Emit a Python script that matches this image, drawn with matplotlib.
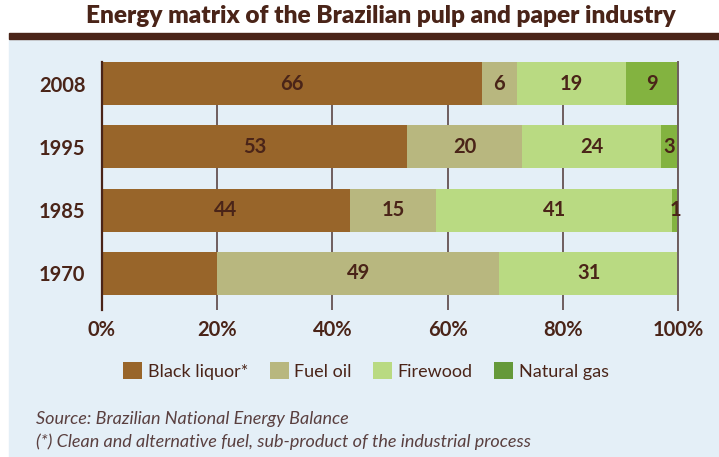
import matplotlib
matplotlib.use("Agg")
import matplotlib.pyplot as plt
from matplotlib.patches import Patch, Rectangle

# data (shares in %)
years = ["1970", "1985", "1995", "2008"]
black_liquor = [20, 43, 53, 66]
fuel_oil = [49, 15, 20, 6]
firewood = [31, 41, 24, 19]
natural_gas = [0, 1, 3, 9]

# printed segment labels ("" = not printed)
black_liquor_lbl = ["", "44", "53", "66"]
fuel_oil_lbl = ["49", "15", "20", "6"]
firewood_lbl = ["31", "41", "24", "19"]
natural_gas_lbl = ["", "1", "3", "9"]

series_names = ["Black liquor*", "Fuel oil", "Firewood", "Natural gas"]
series_colors = ["#98652A", "#B8B77F", "#B9DA82", "#83B340"]
legend_colors = ["#98652A", "#B8B77F", "#B9DA82", "#65993A"]
xticks = [0, 20, 40, 60, 80, 100]

DARK = "#4A2418"
PANEL = "#E4EFF7"
FONT = ["Lato", "DejaVu Sans"]

W, H = 719, 457
fig = plt.figure(figsize=(W / 100, H / 100), dpi=100)
fig.patch.set_facecolor("white")

# light panel and dark title rule
fig.add_artist(Rectangle((9 / W, 0), 1 - 9 / W, (H - 40) / H,
                         transform=fig.transFigure, color=PANEL, zorder=0))
fig.add_artist(Rectangle((9 / W, (H - 39) / H), 1 - 9 / W, 6 / H,
                         transform=fig.transFigure, color=DARK, zorder=0))
fig.text(381 / W, 1 - 16 / H, "Energy matrix of the Brazilian pulp and paper industry",
         ha="center", va="center", fontsize=17.6, fontweight="heavy",
         family=FONT, color=DARK)

ax = fig.add_axes([102 / W, (H - 310) / H, 576 / W, 248 / H])
ax.set_facecolor("none")

ypos = list(range(len(years)))
series = [black_liquor, fuel_oil, firewood, natural_gas]
labels = [black_liquor_lbl, fuel_oil_lbl, firewood_lbl, natural_gas_lbl]
left = [0] * len(years)
for vals, lbls, name, col in zip(series, labels, series_names, series_colors):
    bars = ax.barh(ypos, vals, left=left, height=0.68, color=col, label=name, zorder=2)
    ax.bar_label(bars, labels=lbls, label_type="center", fontsize=14.5,
                 fontweight="bold", family=FONT, color=DARK)
    left = [a + b for a, b in zip(left, vals)]

ax.set_xlim(0, 100)
ax.set_ylim(-0.578, 3.34)
ax.set_xticks(xticks)
ax.set_xticklabels([f"{t}%" for t in xticks], fontsize=14.5, fontweight="bold",
                   family=FONT, color=DARK)
ax.set_yticks(ypos)
ax.set_yticklabels(years, fontsize=14.5, fontweight="bold", family=FONT, color=DARK)
ax.tick_params(axis="both", length=0)
ax.tick_params(axis="y", pad=12)
ax.tick_params(axis="x", pad=7)

ax.grid(axis="x", color="#6E5E5E", linewidth=1.4, zorder=1)
ax.set_axisbelow(True)
for side in ["top", "bottom"]:
    ax.spines[side].set_visible(False)
ax.spines["left"].set_color(DARK)
ax.spines["left"].set_linewidth(1.6)
ax.spines["right"].set_color("#6E5E5E")
ax.spines["right"].set_linewidth(1.4)

handles = [Patch(facecolor=c, edgecolor="none") for c in legend_colors]
fig.legend(handles, series_names, loc="center", bbox_to_anchor=(366 / W, 1 - 371 / H),
           ncol=4, frameon=False, prop={"family": FONT, "size": 13},
           labelcolor=DARK, handlelength=1.05, handleheight=1.05,
           handletextpad=0.3, columnspacing=1.2)

fig.text(36 / W, 1 - 419 / H, "Source: Brazilian National Energy Balance",
         ha="left", va="center", fontsize=13, style="italic", family=FONT, color="#5A4040")
fig.text(36 / W, 1 - 442 / H,
         "(*) Clean and alternative fuel, sub-product of the industrial process",
         ha="left", va="center", fontsize=13, style="italic", family=FONT, color="#5A4040")

fig.savefig("out.png", dpi=100)
